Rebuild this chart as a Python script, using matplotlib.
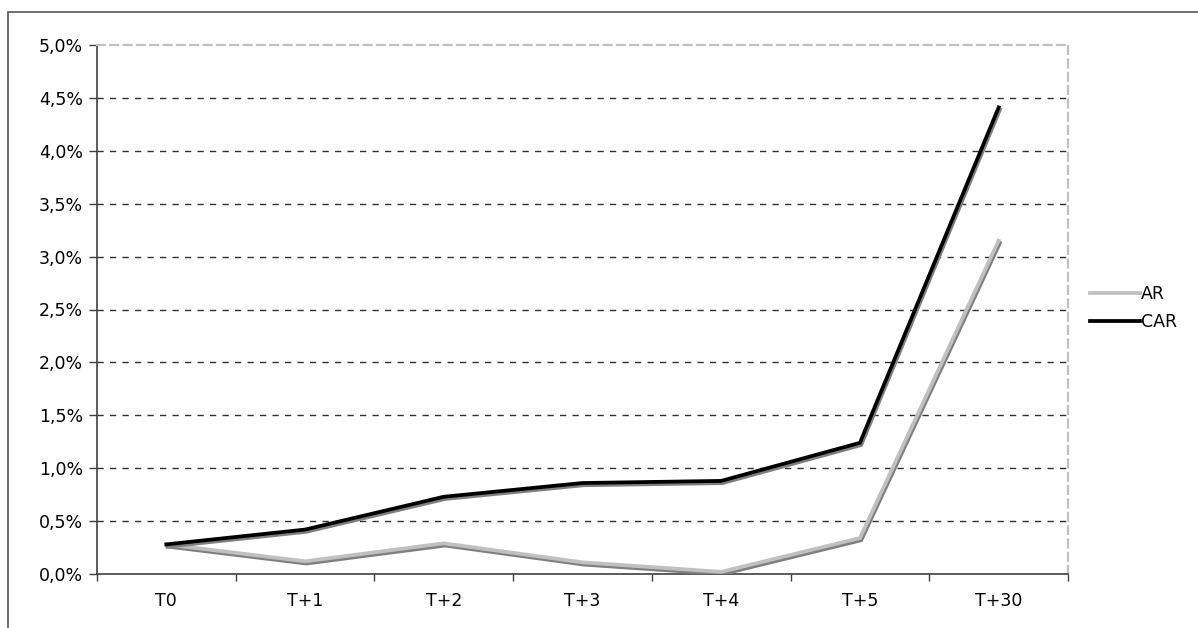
import numpy as np
import matplotlib
matplotlib.use("Agg")
import matplotlib.pyplot as plt
import matplotlib.patheffects as pe
from matplotlib.ticker import FuncFormatter

# Categorias e séries (em %)
periodos = ["T0", "T+1", "T+2", "T+3", "T+4", "T+5", "T+30"]
ar = [0.28, 0.12, 0.29, 0.11, 0.02, 0.34, 3.15]
car = [0.28, 0.42, 0.73, 0.86, 0.88, 1.24, 4.41]

plt.rcParams["font.family"] = ["DejaVu Sans"]
plt.rcParams["font.size"] = 12.5

fig = plt.figure(figsize=(11.98, 6.28), dpi=100)
ax = fig.add_axes([97/1198, 1 - 574/628, (1068 - 97)/1198, (574 - 45)/628])

# moldura externa (só aparecem topo e esquerda)
moldura = plt.Rectangle((8/1198, -0.05), 1.2, 1 - 12/628 + 0.05, transform=fig.transFigure,
                        fill=False, edgecolor="#555555", linewidth=1.2)
fig.patches.append(moldura)

x = np.arange(len(periodos))
sombra = [pe.SimpleLineShadow(offset=(0.9, -1.6), shadow_color="#7f7f7f", alpha=1.0), pe.Normal()]

ax.plot(x, ar, color="#c0c0c0", linewidth=2.7, label="AR", path_effects=sombra, zorder=3,
        solid_joinstyle="miter")
ax.plot(x, car, color="#000000", linewidth=2.7, label="CAR", path_effects=sombra, zorder=4,
        solid_joinstyle="miter")

ax.set_xlim(-0.5, len(periodos) - 0.5)
ax.set_ylim(0, 5.0)

yt = np.arange(0, 5.01, 0.5)
ax.set_yticks(yt)
ax.yaxis.set_major_formatter(FuncFormatter(lambda v, p: f"{v:.1f}%".replace(".", ",")))
for v in yt[1:-1]:
    ax.axhline(v, color="#303030", linewidth=1.0, linestyle=(0, (4.5, 4.5)), zorder=1)

# ticks nas divisões, rótulos no centro das categorias
ax.set_xticks(np.arange(-0.5, len(periodos), 1.0))
ax.set_xticklabels([])
ax.set_xticks(x, minor=True)
ax.set_xticklabels(periodos, minor=True)
ax.tick_params(axis="x", which="major", direction="out", length=5, width=1, color="#404040")
ax.tick_params(axis="x", which="minor", length=0, pad=13)
ax.tick_params(axis="y", direction="out", length=6, width=1, color="#404040", pad=4)

for s in ["left", "bottom"]:
    ax.spines[s].set_color("#404040")
    ax.spines[s].set_linewidth(1.2)
for s in ["top", "right"]:
    ax.spines[s].set_color("#c0c0c0")
    ax.spines[s].set_linewidth(1.6)
    ax.spines[s].set_linestyle((0, (3.5, 2.5)))

leg = fig.legend(loc="center left", bbox_to_anchor=(1090/1198, 1 - 308/628), frameon=False,
                 handlelength=2.9, handletextpad=0.05, labelspacing=0.55, borderpad=0,
                 borderaxespad=0)
for linha in leg.get_lines():
    linha.set_path_effects([])

fig.savefig("out.png", dpi=100)
